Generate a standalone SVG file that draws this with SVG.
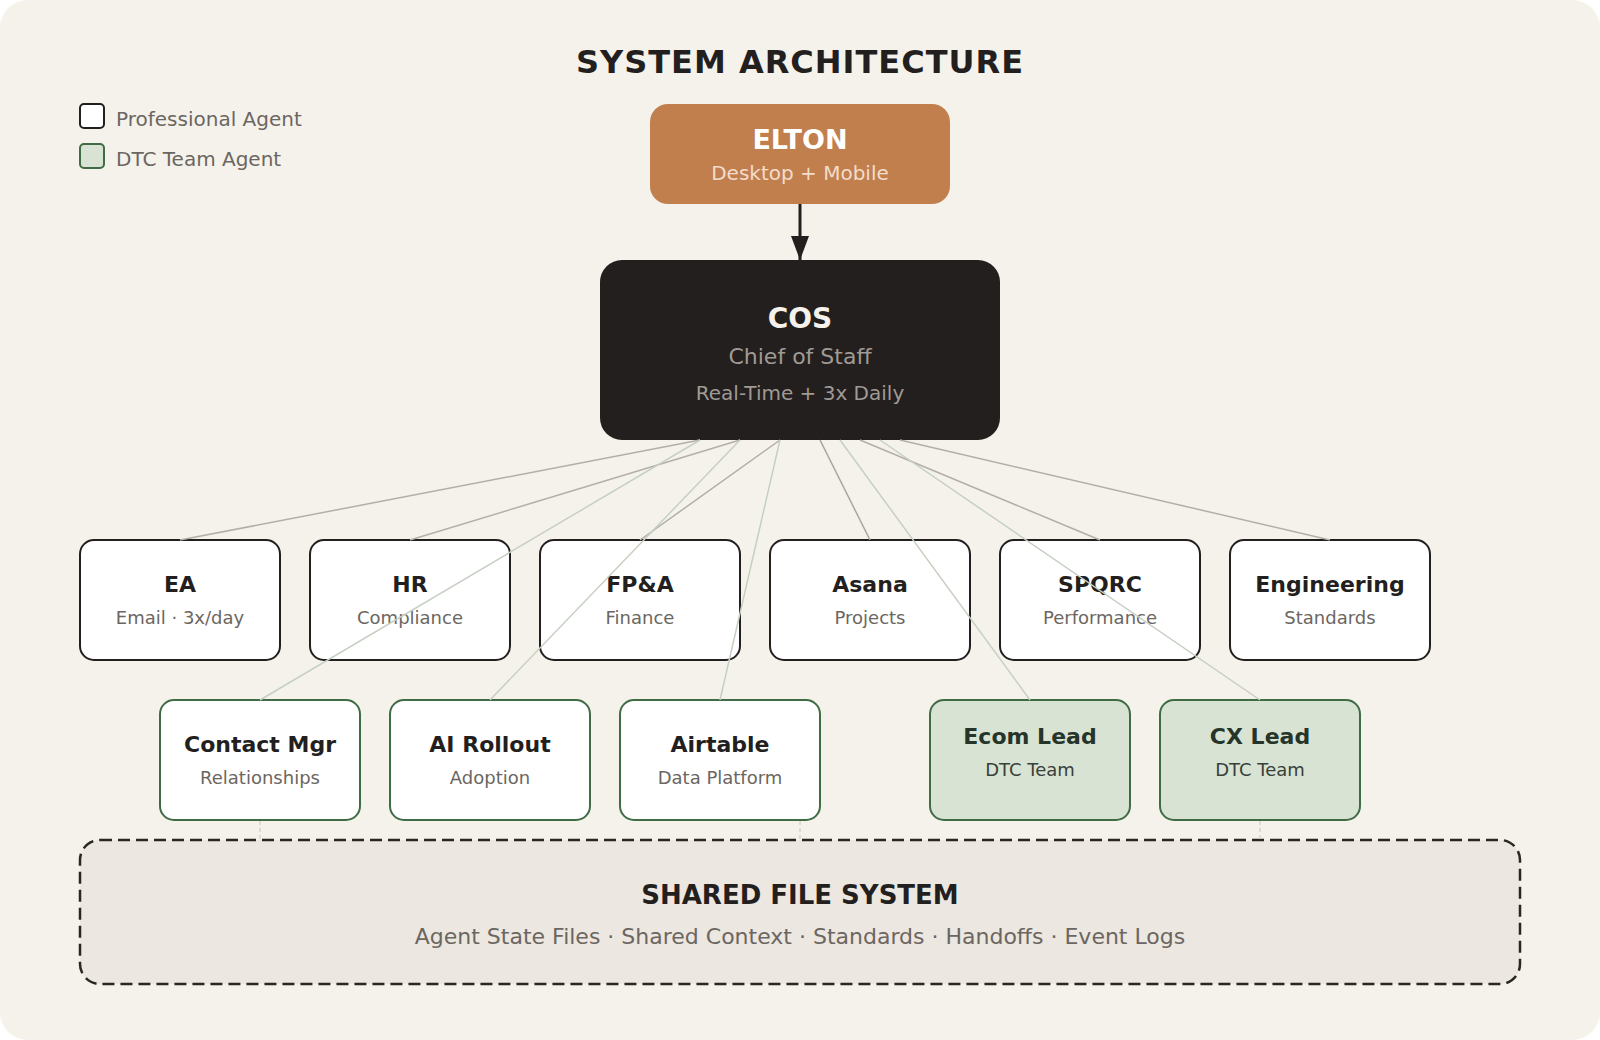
<svg xmlns="http://www.w3.org/2000/svg" width="1600" height="1040" viewBox="0 0 1600 1040">
<defs>
<style>
.t{font-family:"DejaVu Sans",sans-serif;text-anchor:middle}
.h{font-weight:bold;font-size:22px;fill:#231f1e}
.s{font-size:18px;fill:#6b6661}
.pro{fill:#ffffff;stroke:#231f1e;stroke-width:2}
.prog{fill:#ffffff;stroke:#3f6b45;stroke-width:2}
.dtc{fill:#d8e3d3;stroke:#3f6b45;stroke-width:2}
.dh{font-weight:bold;font-size:22px;fill:#26352a}
.ds{font-size:18px;fill:#38403a}
.lg{stroke:#b3aea8;stroke-width:1.5;fill:none}
.lgr{stroke:#c6d0c2;stroke-width:1.5;fill:none}
.lf{stroke:#d6d2cc;stroke-width:1.5;stroke-dasharray:4 3;fill:none}
.leg{font-family:"DejaVu Sans",sans-serif;font-size:20px;fill:#6b6661}
</style>
<marker id="arr" viewBox="0 0 24 18" refX="24" refY="9" markerWidth="24" markerHeight="18" markerUnits="userSpaceOnUse" orient="auto">
<path d="M0,0 L24,9 L0,18 Z" fill="#231f1e"/>
</marker>
</defs>
<rect x="0" y="0" width="1600" height="1040" rx="28" fill="#f5f2ec"/>
<text class="t" x="800" y="73" style="font-weight:bold;font-size:32px;letter-spacing:1px;fill:#231f1e">SYSTEM ARCHITECTURE</text>

<g id="legend">
<rect x="80" y="104" width="24" height="24" rx="4" fill="#ffffff" stroke="#231f1e" stroke-width="2"/>
<text class="leg" x="116" y="126">Professional Agent</text>
<rect x="80" y="144" width="24" height="24" rx="4" fill="#d8e3d3" stroke="#3f6b45" stroke-width="2"/>
<text class="leg" x="116" y="166">DTC Team Agent</text>
</g>

<g id="node-elton">
<rect x="650" y="104" width="300" height="100" rx="18" fill="#c17f4e"/>
<text class="t" x="800" y="149" style="font-weight:bold;font-size:27px;fill:#ffffff">ELTON</text>
<text class="t" x="800" y="180" style="font-size:20px;fill:#f3dccb">Desktop + Mobile</text>
</g>

<g id="node-cos">
<rect x="600" y="260" width="400" height="180" rx="22" fill="#231f1e"/>
<text class="t" x="800" y="328" style="font-weight:bold;font-size:28px;fill:#f5f2ec">COS</text>
<text class="t" x="800" y="364" style="font-size:22px;fill:#a09a94">Chief of Staff</text>
<text class="t" x="800" y="400" style="font-size:20px;fill:#a09a94">Real-Time + 3x Daily</text>
</g>

<g id="node-ea"><rect class="pro" x="80" y="540" width="200" height="120" rx="14"/><text class="t h" x="180" y="592">EA</text><text class="t s" x="180" y="624">Email · 3x/day</text></g>
<g id="node-hr"><rect class="pro" x="310" y="540" width="200" height="120" rx="14"/><text class="t h" x="410" y="592">HR</text><text class="t s" x="410" y="624">Compliance</text></g>
<g id="node-fpa"><rect class="pro" x="540" y="540" width="200" height="120" rx="14"/><text class="t h" x="640" y="592">FP&amp;A</text><text class="t s" x="640" y="624">Finance</text></g>
<g id="node-asana"><rect class="pro" x="770" y="540" width="200" height="120" rx="14"/><text class="t h" x="870" y="592">Asana</text><text class="t s" x="870" y="624">Projects</text></g>
<g id="node-spqrc"><rect class="pro" x="1000" y="540" width="200" height="120" rx="14"/><text class="t h" x="1100" y="592">SPQRC</text><text class="t s" x="1100" y="624">Performance</text></g>
<g id="node-engineering"><rect class="pro" x="1230" y="540" width="200" height="120" rx="14"/><text class="t h" x="1330" y="592">Engineering</text><text class="t s" x="1330" y="624">Standards</text></g>

<g id="node-contact"><rect class="prog" x="160" y="700" width="200" height="120" rx="14"/><text class="t h" x="260" y="752">Contact Mgr</text><text class="t s" x="260" y="784">Relationships</text></g>
<g id="node-airollout"><rect class="prog" x="390" y="700" width="200" height="120" rx="14"/><text class="t h" x="490" y="752">AI Rollout</text><text class="t s" x="490" y="784">Adoption</text></g>
<g id="node-airtable"><rect class="prog" x="620" y="700" width="200" height="120" rx="14"/><text class="t h" x="720" y="752">Airtable</text><text class="t s" x="720" y="784">Data Platform</text></g>
<g id="node-ecom"><rect class="dtc" x="930" y="700" width="200" height="120" rx="14"/><text class="t dh" x="1030" y="744">Ecom Lead</text><text class="t ds" x="1030" y="776">DTC Team</text></g>
<g id="node-cx"><rect class="dtc" x="1160" y="700" width="200" height="120" rx="14"/><text class="t dh" x="1260" y="744">CX Lead</text><text class="t ds" x="1260" y="776">DTC Team</text></g>

<g id="node-shared">
<rect x="80" y="840" width="1440" height="144" rx="20" fill="#ece7e0" stroke="#2a2624" stroke-width="2.5" stroke-dasharray="12 6"/>
<text class="t" x="800" y="904" style="font-weight:bold;font-size:26px;fill:#231f1e">SHARED FILE SYSTEM</text>
<text class="t" x="800" y="944" style="font-size:22px;fill:#6b6661">Agent State Files · Shared Context · Standards · Handoffs · Event Logs</text>
</g>

<g id="connectors">
<line x1="800" y1="204" x2="800" y2="260" stroke="#231f1e" stroke-width="3" marker-end="url(#arr)"/>
<line class="lg" x1="700" y1="440" x2="180" y2="540"/>
<line class="lg" x1="740" y1="440" x2="410" y2="540"/>
<line class="lg" x1="780" y1="440" x2="640" y2="540"/>
<line class="lg" x1="820" y1="440" x2="870" y2="540" style="stroke:#a8a39d"/>
<line class="lg" x1="860" y1="440" x2="1100" y2="540"/>
<line class="lg" x1="900" y1="440" x2="1330" y2="540"/>
<line class="lgr" x1="700" y1="440" x2="260" y2="700"/>
<line class="lgr" x1="740" y1="440" x2="490" y2="700"/>
<line class="lgr" x1="780" y1="440" x2="720" y2="700"/>
<line class="lgr" x1="840" y1="440" x2="1030" y2="700"/>
<line class="lgr" x1="880" y1="440" x2="1260" y2="700"/>
<line class="lf" x1="260" y1="821" x2="260" y2="839"/>
<line class="lf" x1="800" y1="821" x2="800" y2="839"/>
<line class="lf" x1="1260" y1="821" x2="1260" y2="839"/>
</g>
</svg>
